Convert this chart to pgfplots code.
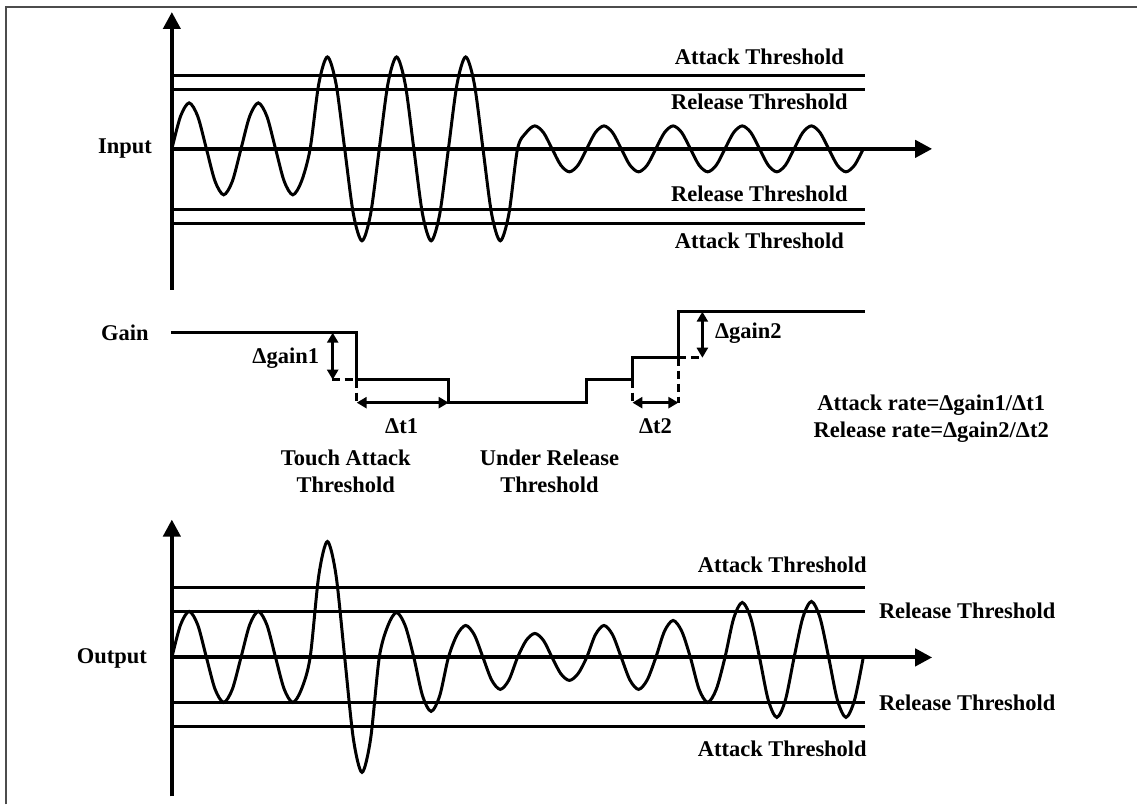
\documentclass[border=0pt]{standalone}
\usepackage{fontspec}
\setmainfont{Liberation Serif}
\usepackage{pgfplots}
\pgfplotsset{compat=1.18}
\usetikzlibrary{arrows.meta}

\tikzset{
  lbl/.style={font=\fontsize{11.25}{13.5}\selectfont\bfseries, inner sep=0pt, align=center},
  bigarrow/.style={line width=2pt, -{Triangle[length=8.5pt,width=8.5pt]}},
  smallarrow/.style={line width=1.5pt, {Triangle[length=5pt,width=5.5pt]}-{Triangle[length=5pt,width=5.5pt]}},
  dsh/.style={line width=1.5pt, dash pattern=on 4pt off 2.5pt},
}

% Input wave: x (px), y (px, downward)
\pgfplotstableread{
x y
172 149
180.65 116.5
189.3 103
197.95 116.5
206.6 149
215.25 181.5
223.9 195
232.55 181.5
241.2 149
249.85 116.5
258.5 103
267.15 116.5
275.8 149
284.45 181.5
293.1 195
301.75 181.5
310.4 149
319.05 84
327.7 57
336.35 84
345 149
353.65 214
362.3 241
370.95 214
379.6 149
388.25 84
396.9 57
405.55 84
414.2 149
422.85 214
431.5 241
440.15 214
448.8 149
457.45 84
466.1 57
474.75 84
483.4 149
492.05 214
500.7 241
509.35 214
518 149
526.65 132.7
535.3 126
543.95 132.7
552.6 149
561.25 165.3
569.9 172
578.55 165.3
587.2 149
595.85 132.7
604.5 126
613.15 132.7
621.8 149
630.45 165.3
639.1 172
647.75 165.3
656.4 149
665.05 132.7
673.7 126
682.35 132.7
691 149
699.65 165.3
708.3 172
716.95 165.3
725.6 149
734.25 132.7
742.9 126
751.55 132.7
760.2 149
768.85 165.3
777.5 172
786.15 165.3
794.8 149
803.45 132.7
812.1 126
820.75 132.7
829.4 149
838.05 165.3
846.7 172
855.35 165.3
864 149
}\inputwave

\pgfplotstableread{
x y
172 658
180.65 625.5
189.3 612
197.95 625.5
206.6 658
215.25 689.8
223.9 703
232.55 689.8
241.2 658
249.85 625.5
258.5 612
267.15 625.5
275.8 658
284.45 689.8
293.1 703
301.75 689.8
310.4 658
319.05 576
327.7 542
336.35 576
345 658
353.65 739.3
362.3 773
370.95 739.3
379.6 658
388.25 626.2
396.9 613
405.55 626.2
414.2 658
422.85 696.2
431.5 712
440.15 696.2
448.8 658
457.45 635.4
466.1 626
474.75 635.4
483.4 658
492.05 680.6
500.7 690
509.35 680.6
518 658
526.65 641
535.3 634
543.95 641
552.6 658
561.25 674.3
569.9 681
578.55 674.3
587.2 658
595.85 635.4
604.5 626
613.15 635.4
621.8 658
630.45 680.6
639.1 690
647.75 680.6
656.4 658
665.05 631.8
673.7 621
682.35 631.8
691 658
699.65 689.8
708.3 703
716.95 689.8
725.6 658
734.25 619.1
742.9 603
751.55 619.1
760.2 658
768.85 700.4
777.5 718
786.15 700.4
794.8 658
803.45 618.4
812.1 602
820.75 618.4
829.4 658
838.05 700.4
846.7 718
855.35 700.4
864 658
}\outputwave

\begin{document}
\begin{tikzpicture}
\begin{axis}[
  scale only axis, width=569pt, height=402.5pt,
  xmin=0, xmax=1138, ymin=0, ymax=805, y dir=reverse,
  hide axis, clip=false,
]
% bounding box
\addplot[draw=none] coordinates {(0,0) (1138,805)};
% frame
\addplot[line width=1pt, gray!60!black] coordinates {(6,805) (6,7) (1138,7)};

% ---------- Input panel ----------
\addplot[line width=1.5pt] coordinates {(172,75.7) (866,75.7)};
\addplot[line width=1.5pt] coordinates {(172,89.3) (866,89.3)};
\addplot[line width=1.5pt] coordinates {(172,209.3) (866,209.3)};
\addplot[line width=1.5pt] coordinates {(172,223.3) (866,223.3)};
\addplot[line width=1.5pt, smooth] table {\inputwave};
\addplot[bigarrow] coordinates {(172,290) (172,12)};
\addplot[bigarrow] coordinates {(172,149) (933,149)};

\node[lbl] at (axis cs:125,149) {Input};
\node[lbl] at (axis cs:760,57) {Attack Threshold};
\node[lbl] at (axis cs:760,102) {Release Threshold};
\node[lbl] at (axis cs:760,194) {Release Threshold};
\node[lbl] at (axis cs:760,241) {Attack Threshold};

% ---------- Gain panel ----------
\addplot[line width=1.5pt] coordinates {(171,333) (357,333) (357,380) (449,380) (449,403) (587,403) (587,380) (633,380) (633,358) (679,358) (679,312) (866,312)};
\addplot[dsh] coordinates {(357,380) (357,403)};
\addplot[dsh] coordinates {(332,380) (357,380)};
\addplot[dsh] coordinates {(633,380) (633,403)};
\addplot[dsh] coordinates {(679,358) (679,403)};
\addplot[dsh] coordinates {(679,358) (704,358)};
\addplot[smallarrow] coordinates {(333,333) (333,380)};
\addplot[smallarrow] coordinates {(357,403) (449,403)};
\addplot[smallarrow] coordinates {(633,403) (679,403)};
\addplot[smallarrow] coordinates {(703,312) (703,358)};

\node[lbl] at (axis cs:125,333) {Gain};
\node[lbl] at (axis cs:286,358) {Δgain1};
\node[lbl] at (axis cs:402,427) {Δt1};
\node[lbl] at (axis cs:656,427) {Δt2};
\node[lbl] at (axis cs:749,333) {Δgain2};
\node[lbl] at (axis cs:346,472) {Touch Attack\\Threshold};
\node[lbl] at (axis cs:550,472) {Under Release\\Threshold};
\node[lbl] at (axis cs:932,419) {Attack rate=Δgain1/Δt1\\Release rate=Δgain2/Δt2};

% ---------- Output panel ----------
\addplot[line width=1.5pt] coordinates {(172,588) (866,588)};
\addplot[line width=1.5pt] coordinates {(172,612) (866,612)};
\addplot[line width=1.5pt] coordinates {(172,703) (866,703)};
\addplot[line width=1.5pt] coordinates {(172,727) (866,727)};
\addplot[line width=1.5pt, smooth] table {\outputwave};
\addplot[bigarrow] coordinates {(172,797) (172,520)};
\addplot[bigarrow] coordinates {(172,658) (933,658)};

\node[lbl] at (axis cs:112,659) {Output};
\node[lbl] at (axis cs:783,565) {Attack Threshold};
\node[lbl] at (axis cs:968,611) {Release Threshold};
\node[lbl] at (axis cs:968,703) {Release Threshold};
\node[lbl] at (axis cs:783,749) {Attack Threshold};
\end{axis}
\end{tikzpicture}
\end{document}
